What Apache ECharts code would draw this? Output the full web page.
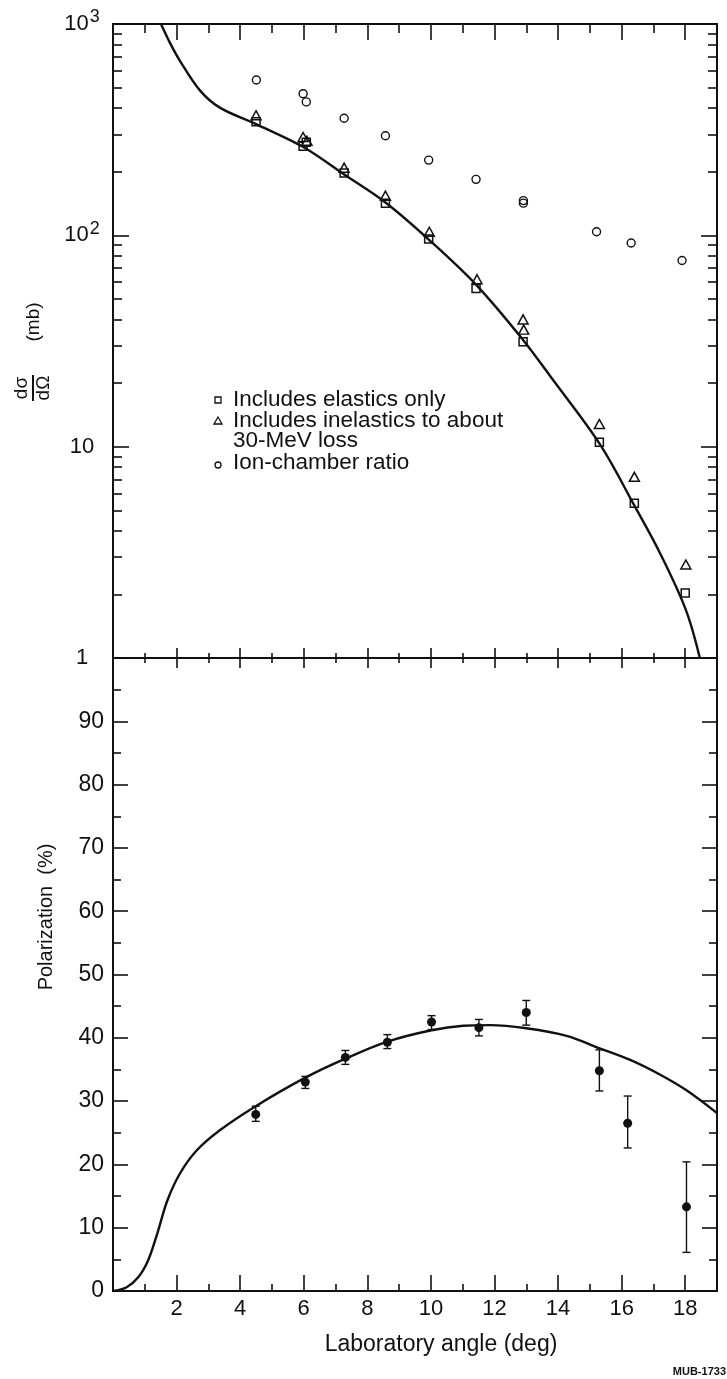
<!DOCTYPE html>
<html>
<head>
<meta charset="utf-8">
<script src="https://cdn.jsdelivr.net/npm/echarts@6/dist/echarts.min.js"></script>
<style>
html,body{margin:0;padding:0;background:#fff;}
#chart{width:727px;height:1379px;}
</style>
</head>
<body>
<div id="chart"></div>
<script>
// ---------- data ----------
// Top panel: differential cross section (mb) vs laboratory angle (deg)
const elasticAngles   = [4.5, 5.98, 6.08, 7.27, 8.57, 9.93, 11.42, 12.9, 15.3, 16.4, 18.0];
const elasticValues   = [345, 264, 276, 197, 142, 96, 56, 31.4, 10.5, 5.4, 2.03];
const inelasticAngles = [4.5, 5.98, 6.1, 7.27, 8.57, 9.95, 11.45, 12.9, 12.92, 15.3, 16.4, 18.02];
const inelasticValues = [370, 292, 280, 209, 154, 104, 62, 40, 35.8, 12.8, 7.2, 2.77];
const ionAngles       = [4.51, 5.98, 6.08, 7.27, 8.57, 9.93, 11.42, 12.91, 12.91, 15.21, 16.3, 17.9];
const ionValues       = [543, 468, 428, 358, 296, 227, 184, 146, 142, 104, 92, 76];
const xsCurveAngles   = [1.51, 1.8, 2.11, 2.74, 3.36, 4.5, 6.0, 7.25, 8.57, 9.95, 11.44, 12.9, 13.85, 15.31, 16.42, 17.2, 18.02, 18.46];
const xsCurveValues   = [1000, 810, 668, 484, 402, 336, 261, 195, 143, 95, 58, 32, 20.6, 10.3, 5.2, 3.15, 1.69, 1.0];

// Bottom panel: polarization (%)
const polAngles  = [4.49, 6.05, 7.31, 8.63, 10.02, 11.51, 13.0, 15.3, 16.19, 18.04];
const polValues  = [27.9, 33.0, 36.9, 39.3, 42.5, 41.6, 44.0, 34.8, 26.5, 13.3];
const polErrHigh = [29.2, 33.9, 38.0, 40.5, 43.5, 42.9, 45.9, 38.1, 30.8, 20.4];
const polErrLow  = [26.8, 32.0, 35.8, 38.3, 41.3, 40.3, 42.0, 31.6, 22.6, 6.1];
const polCurveAngles = [0, 0.43, 0.8, 1.11, 1.4, 1.71, 2.11, 2.63, 3.36, 4.49, 6.05, 7.31, 8.63, 10.02, 11.02, 11.86, 13.0, 14.27, 15.33, 16.27, 17.2, 18.04, 19.0];
const polCurveValues = [0, 0.6, 2.2, 4.9, 9.2, 14.3, 18.6, 22.2, 25.4, 29.2, 33.7, 36.7, 39.4, 41.2, 41.9, 42.0, 41.5, 40.3, 38.3, 36.5, 34.2, 31.7, 28.1];

// tick values
const xMajorTicks = [2, 4, 6, 8, 10, 12, 14, 16, 18];
const xMinorTicks = [1, 3, 5, 7, 9, 11, 13, 15, 17];
const logMinorTickLabels = [2,3,4,5,6,7,8,9,20,30,40,50,60,70,80,90,200,300,400,500,600,700,800,900];
const polTickLabels = [0, 10, 20, 30, 40, 50, 60, 70, 80, 90];

const legendLines = ['Includes elastics only', 'Includes inelastics to about', '30-MeV loss', 'Ion-chamber ratio'];

// ---------- chart ----------
const INK = '#111';
const FONT = 'Liberation Sans';
const chart = echarts.init(document.getElementById('chart'), null, {renderer: 'canvas'});
const zip = (a, b) => a.map((v, i) => [v, b[i]]);
const noLine = {show: false, onZero: false};

function xAx(grid, pos, ticks, len, extra) {
  return Object.assign({
    type: 'value', gridIndex: grid, position: pos, min: 0, max: 19,
    axisLine: noLine, splitLine: {show: false},
    axisLabel: {show: false},
    axisTick: {show: true, inside: true, length: len, customValues: ticks, lineStyle: {color: INK, width: 1.6}}
  }, extra || {});
}
const logMinorPos = logMinorTickLabels.map(v => Math.log10(v));
function yLogHelper(pos) {
  return {
    type: 'value', gridIndex: 0, position: pos, min: 0, max: 3,
    axisLine: noLine, splitLine: {show: false}, axisLabel: {show: false},
    axisTick: {show: true, inside: true, length: 9, customValues: logMinorPos, lineStyle: {color: INK, width: 1.6}}
  };
}

const option = {
  animation: false,
  backgroundColor: '#fff',
  grid: [
    {left: 113, top: 24, width: 604, height: 634, show: true, borderColor: INK, borderWidth: 2, backgroundColor: 'transparent'},
    {left: 113, top: 658, width: 604, height: 633, show: true, borderColor: INK, borderWidth: 2, backgroundColor: 'transparent'}
  ],
  xAxis: [
    xAx(0, 'bottom', xMajorTicks, 10),
    xAx(0, 'bottom', xMinorTicks, 5),
    xAx(0, 'top', xMajorTicks, 16),
    xAx(0, 'top', xMinorTicks, 9),
    xAx(1, 'top', xMajorTicks, 10),
    xAx(1, 'top', xMinorTicks, 5),
    xAx(1, 'bottom', xMajorTicks, 16, {
      axisLabel: {show: true, customValues: xMajorTicks, fontSize: 22, fontFamily: FONT, color: INK, margin: 7}
    }),
    xAx(1, 'bottom', xMinorTicks, 7)
  ],
  yAxis: [
    {
      type: 'log', logBase: 10, gridIndex: 0, position: 'left', min: 1, max: 1000,
      axisLine: noLine, splitLine: {show: false}, minorTick: {show: false},
      axisTick: {show: true, inside: true, length: 16, lineStyle: {color: INK, width: 1.6}},
      axisLabel: {
        show: true, margin: 31, align: 'center', color: INK,
        formatter: v => {
          const r = Math.round(v);
          if (r === 1000) return '{b|10}{s|3}';
          if (r === 100) return '{b|10}{s|2}';
          return '{b|' + r + '}';
        },
        rich: {
          b: {fontSize: 22, fontFamily: FONT, color: INK},
          s: {fontSize: 18, fontFamily: FONT, color: INK, padding: [0, 0, 13, 1]}
        }
      }
    },
    yLogHelper('left'),
    {
      type: 'log', logBase: 10, gridIndex: 0, position: 'right', min: 1, max: 1000,
      axisLine: noLine, splitLine: {show: false}, axisLabel: {show: false}, minorTick: {show: false},
      axisTick: {show: true, inside: true, length: 16, lineStyle: {color: INK, width: 1.6}}
    },
    yLogHelper('right'),
    {
      type: 'value', gridIndex: 1, position: 'left', min: 0, max: 100, interval: 10,
      axisLine: noLine, splitLine: {show: false},
      axisTick: {show: true, inside: true, length: 15, lineStyle: {color: INK, width: 1.6}},
      minorTick: {show: true, splitNumber: 2, length: 8, lineStyle: {color: INK, width: 1.6}},
      axisLabel: {show: true, customValues: polTickLabels, fontSize: 23, fontFamily: FONT, color: INK, margin: 9}
    },
    {
      type: 'value', gridIndex: 1, position: 'right', min: 0, max: 100, interval: 10,
      axisLine: noLine, splitLine: {show: false}, axisLabel: {show: false},
      axisTick: {show: true, inside: true, length: 15, lineStyle: {color: INK, width: 1.6}},
      minorTick: {show: true, splitNumber: 2, length: 8, lineStyle: {color: INK, width: 1.6}}
    }
  ],
  series: [
    {
      type: 'line', xAxisIndex: 0, yAxisIndex: 0, data: zip(xsCurveAngles, xsCurveValues),
      smooth: 0.35, showSymbol: false, symbol: 'none', clip: true,
      lineStyle: {color: INK, width: 2.4}
    },
    {
      type: 'scatter', xAxisIndex: 0, yAxisIndex: 0, data: zip(elasticAngles, elasticValues),
      symbol: 'rect', symbolSize: 8,
      itemStyle: {color: '#fff', borderColor: INK, borderWidth: 1.5, opacity: 1}
    },
    {
      type: 'scatter', xAxisIndex: 0, yAxisIndex: 0, data: zip(inelasticAngles, inelasticValues),
      symbol: 'triangle', symbolSize: [10, 9],
      itemStyle: {color: 'rgba(255,255,255,0)', borderColor: INK, borderWidth: 1.5, opacity: 1}
    },
    {
      type: 'scatter', xAxisIndex: 0, yAxisIndex: 0, data: zip(ionAngles, ionValues),
      symbol: 'circle', symbolSize: 8,
      itemStyle: {color: 'rgba(255,255,255,0)', borderColor: INK, borderWidth: 1.4, opacity: 1}
    },
    {
      type: 'line', xAxisIndex: 6, yAxisIndex: 4, data: zip(polCurveAngles, polCurveValues),
      smooth: 0.35, showSymbol: false, symbol: 'none', clip: true,
      lineStyle: {color: INK, width: 2.4}
    },
    {
      type: 'custom', xAxisIndex: 6, yAxisIndex: 4,
      data: polAngles.map((a, i) => [a, polErrLow[i], polErrHigh[i]]),
      encode: {x: 0, y: [1, 2]},
      renderItem: (params, api) => {
        const x = api.value(0);
        const lo = api.coord([x, api.value(1)]);
        const hi = api.coord([x, api.value(2)]);
        const cap = 4;
        const st = {stroke: INK, lineWidth: 1.4};
        return {type: 'group', children: [
          {type: 'line', shape: {x1: hi[0], y1: hi[1], x2: lo[0], y2: lo[1]}, style: st},
          {type: 'line', shape: {x1: hi[0] - cap, y1: hi[1], x2: hi[0] + cap, y2: hi[1]}, style: st},
          {type: 'line', shape: {x1: lo[0] - cap, y1: lo[1], x2: lo[0] + cap, y2: lo[1]}, style: st}
        ]};
      }
    },
    {
      type: 'scatter', xAxisIndex: 6, yAxisIndex: 4, data: zip(polAngles, polValues),
      symbol: 'circle', symbolSize: 9, z: 5,
      itemStyle: {color: INK, opacity: 1}
    }
  ],
  graphic: [
    {
      type: 'group', x: 33, y: 388, rotation: Math.PI / 2, children: [
        {type: 'text', x: 0, y: -2, style: {text: 'dσ', fontSize: 19, fontFamily: FONT, fill: INK, textAlign: 'center', textVerticalAlign: 'bottom'}},
        {type: 'line', shape: {x1: -13, y1: 0, x2: 13, y2: 0}, style: {stroke: INK, lineWidth: 2}},
        {type: 'text', x: 0, y: 1, style: {text: 'dΩ', fontSize: 19, fontFamily: FONT, fill: INK, textAlign: 'center', textVerticalAlign: 'top'}},
        {type: 'text', x: 66, y: 1, style: {text: '(mb)', fontSize: 19, fontFamily: FONT, fill: INK, textAlign: 'center', textVerticalAlign: 'middle'}}
      ]
    },
    {
      type: 'text', x: 46, y: 917, rotation: Math.PI / 2,
      style: {text: 'Polarization  (%)', fontSize: 20, fontFamily: FONT, fill: INK, textAlign: 'center', textVerticalAlign: 'middle'}
    },
    {type: 'text', x: 441, y: 1345, style: {text: 'Laboratory angle (deg)', fontSize: 23, fontFamily: FONT, fill: INK, textAlign: 'center', textVerticalAlign: 'middle'}},
    {type: 'rect', shape: {x: 215, y: 397, width: 6, height: 6}, style: {fill: '#fff', stroke: INK, lineWidth: 1.3}},
    {type: 'polygon', shape: {points: [[218, 417], [214, 424], [222, 424]]}, style: {fill: '#fff', stroke: INK, lineWidth: 1.3}},
    {type: 'circle', shape: {cx: 218, cy: 465, r: 3}, style: {fill: '#fff', stroke: INK, lineWidth: 1.3}},
    {type: 'text', x: 233, y: 400, style: {text: legendLines[0], fontSize: 22.5, fontFamily: FONT, fill: INK, textVerticalAlign: 'middle'}},
    {type: 'text', x: 233, y: 421, style: {text: legendLines[1], fontSize: 22.5, fontFamily: FONT, fill: INK, textVerticalAlign: 'middle'}},
    {type: 'text', x: 233, y: 441, style: {text: legendLines[2], fontSize: 22.5, fontFamily: FONT, fill: INK, textVerticalAlign: 'middle'}},
    {type: 'text', x: 233, y: 463, style: {text: legendLines[3], fontSize: 22.5, fontFamily: FONT, fill: INK, textVerticalAlign: 'middle'}},
    {type: 'text', x: 726, y: 1372, style: {text: 'MUB-1733', fontSize: 11, fontWeight: 'bold', fontFamily: 'Liberation Sans Narrow, ' + FONT, fill: INK, textAlign: 'right', textVerticalAlign: 'middle'}}
  ]
};
chart.setOption(option);
</script>
</body>
</html>
